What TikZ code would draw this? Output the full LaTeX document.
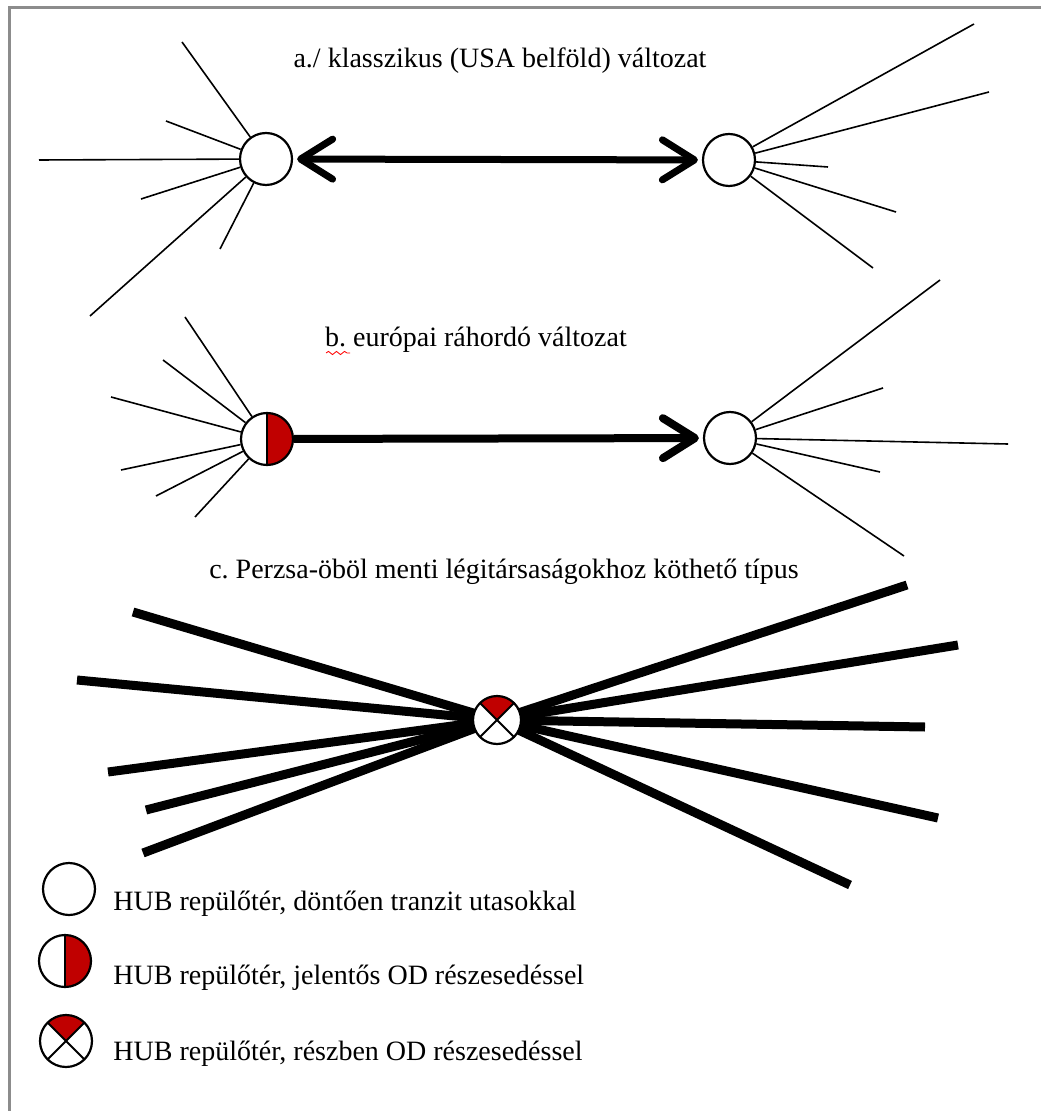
\documentclass[tikz,border=0pt]{standalone}
\usepackage{fontspec}
\setmainfont{Liberation Serif}
\usetikzlibrary{arrows.meta, backgrounds, decorations.pathmorphing}
\definecolor{hubred}{HTML}{C00000}
\definecolor{framegray}{HTML}{8C8C8C}
\frenchspacing
\tikzset{
  hub/.style={circle, draw, line width=1.1pt, fill=white, minimum size=26pt, inner sep=0pt},
  halfhub/.style={hub, path picture={
      \fill[hubred] (path picture bounding box.north) rectangle (path picture bounding box.south east);
      \draw[line width=1pt] (path picture bounding box.north) -- (path picture bounding box.south);}},
  quarterhub/.style={hub, path picture={
      \fill[hubred] (path picture bounding box.center) -- ++(45:15pt) arc[start angle=45, end angle=135, radius=15pt] -- cycle;
      \draw[line width=1pt] (path picture bounding box.north east) -- (path picture bounding box.south west)
        (path picture bounding box.north west) -- (path picture bounding box.south east);}},
  spoke/.style={line width=0.8pt},
  route/.style={line width=4.5pt},
  caption/.style={font=\fontsize{14}{17}\selectfont, anchor=base, inner sep=0pt},
  barb/.tip={Straight Barb[length=16pt, width=20pt, round]}
}

\begin{document}
\begin{tikzpicture}[x=0.5pt, y=-0.5pt]
  \useasboundingbox (0,0) rectangle (1041,1111);
  \draw[framegray, line width=1.5pt] (9,1111) -- (9,8) -- (1041,8);

  % a./ classic
  \node[caption] (t-a) at (500,68) {a./ klasszikus (USA belföld) változat};
  \node[hub] (h-a-1) at (266,159) {};
  \node[hub] (h-a-2) at (729,160) {};
  \foreach \x/\y [count=\i] in {182/42, 166/121, 39/160, 141/199, 90/316, 220/249}
    {\coordinate (s-a-1-\i) at (\x,\y); \draw[spoke] (s-a-1-\i) -- (h-a-1);}
  \foreach \x/\y [count=\i] in {974/24, 989/92, 828/167, 896/212, 873/268}
    {\coordinate (s-a-2-\i) at (\x,\y); \draw[spoke] (s-a-2-\i) -- (h-a-2);}
  \draw[barb-barb, line width=3.5pt, shorten <=2pt, shorten >=2pt] (h-a-1) -- (h-a-2);

  % b. european feeder
  \node[caption] (t-b) at (476,347) {b. európai ráhordó változat};
  \draw[red, decorate, decoration={snake, amplitude=0.8pt, segment length=4pt}] (326,353) -- (350,353);
  \node[halfhub] (h-b-1) at (267,439) {};
  \node[hub] (h-b-2) at (730,438) {};
  \foreach \x/\y [count=\i] in {185/317, 163/360, 111/397, 121/470, 156/496, 195/517}
    {\coordinate (s-b-1-\i) at (\x,\y); \draw[spoke] (s-b-1-\i) -- (h-b-1);}
  \foreach \x/\y [count=\i] in {940/280, 883/388, 1008/444, 880/472, 904/556}
    {\coordinate (s-b-2-\i) at (\x,\y); \draw[spoke] (s-b-2-\i) -- (h-b-2);}
  \draw[-barb, line width=4pt, shorten >=2pt] (h-b-1) -- (h-b-2);

  % c. gulf carriers
  \node[caption] (t-c) at (504,578) {c. Perzsa-öböl menti légitársaságokhoz köthető típus};
  \node[quarterhub, minimum size=24pt] (h-c) at (497,720) {};
  \begin{scope}[on background layer]
    \foreach \x/\y [count=\i] in {133/612, 77/680, 108/772, 146/810, 143/853,
                                  907/585, 958/645, 925/727, 938/818, 850/885}
      {\coordinate (s-c-\i) at (\x,\y); \draw[route] (s-c-\i) -- (h-c.center);}
  \end{scope}

  % legend
  \node[hub] (k-1) at (69,889) {};
  \node[halfhub] (k-2) at (65,961) {};
  \node[quarterhub] (k-3) at (66,1041) {};
  \node[caption, anchor=base west] (l-1) at (113,910) {HUB repülőtér, döntően tranzit utasokkal};
  \node[caption, anchor=base west] (l-2) at (113,984) {HUB repülőtér, jelentős OD részesedéssel};
  \node[caption, anchor=base west] (l-3) at (113,1060) {HUB repülőtér, részben OD részesedéssel};
\end{tikzpicture}
\end{document}
